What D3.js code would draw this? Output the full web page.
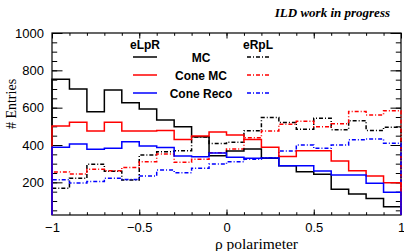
<!DOCTYPE html>
<html>
<head>
<meta charset="utf-8">
<script src="https://cdn.jsdelivr.net/npm/d3@7"></script>
<style>
  body { margin: 0; background: #fff; }
  svg { display: block; }
  .tick text { font-family: "Liberation Sans", Arial, sans-serif; }
</style>
</head>
<body>
<div id="chart"></div>
<script>
// bins of rho polarimeter, 20 bins from -1 to 1
let bin_edges = d3.range(21).map(function (i) { return -1 + i * 0.1; });

// eLpR (solid)
let mc_lr        = [752, 700, 578, 695, 626, 593, 534, 498, 444, 343, 368, 378, 329, 289, 257, 243, 163, 137, 114, 69];
let cone_mc_lr   = [502, 522, 475, 522, 475, 475, 478, 430, 448, 470, 453, 430, 388, 339, 369, 369, 314, 262, 234, 198];
let cone_reco_lr = [388, 405, 377, 382, 418, 395, 387, 341, 337, 357, 334, 329, 330, 289, 289, 261, 239, 239, 195, 147];

// eRpL (dash-dot)
let mc_rl        = [168, 222, 297, 259, 212, 346, 364, 369, 443, 408, 415, 477, 547, 521, 484, 543, 482, 530, 478, 495];
let cone_mc_rl   = [256, 245, 270, 262, 280, 310, 352, 307, 323, 359, 378, 439, 475, 511, 527, 498, 514, 580, 561, 584];
let cone_reco_rl = [214, 197, 204, 222, 215, 234, 266, 252, 275, 298, 310, 323, 332, 368, 400, 382, 400, 428, 432, 409];

let legend_labels = ["MC", "Cone MC", "Cone Reco"];
let legend_colors = ["#000000", "#ff0000", "#0000ff"];
let x_ticks_major = [-1, -0.5, 0, 0.5, 1];
let y_ticks_major = [200, 400, 600, 800, 1000];

let W = 404, H = 251;
let p_left = 52, p_right = 401, p_top = 33, p_bottom = 215;
let y_min = 25, y_max = 1000;

let x = d3.scaleLinear().domain([-1, 1]).range([p_left, p_right]);
let y = d3.scaleLinear().domain([y_min, y_max]).range([p_bottom, p_top]);

let svg = d3.select("#chart").append("svg")
    .attr("width", W)
    .attr("height", H);

let fmt_x = function (d) { return d3.format("")(d).replace("-", "\u2212"); };

let x_minor = d3.range(21).map(function (i) { return -1 + i * 0.1; });
let y_minor = d3.range(1, 21).map(function (i) { return i * 50; });

function add_axis(axis, tx, ty, cls) {
    let g = svg.append("g")
        .attr("class", cls)
        .attr("transform", "translate(" + tx + "," + ty + ")")
        .call(axis);
    g.select(".domain").remove();
    g.selectAll("line").attr("stroke", "#000").attr("stroke-width", 1);
    return g;
}

// bottom
add_axis(d3.axisBottom(x).tickValues(x_minor).tickSize(-2.8).tickFormat(""), 0, p_bottom, "xminor");
let gx = add_axis(d3.axisBottom(x).tickValues(x_ticks_major).tickSize(-5.5).tickPadding(8).tickFormat(fmt_x), 0, p_bottom, "xmajor");
gx.selectAll("text").attr("font-size", 13).attr("fill", "#000");
// top
add_axis(d3.axisTop(x).tickValues(x_minor).tickSize(-2.8).tickFormat(""), 0, p_top, "xminor_t");
add_axis(d3.axisTop(x).tickValues(x_ticks_major).tickSize(-5.5).tickFormat(""), 0, p_top, "xmajor_t");
// left
add_axis(d3.axisLeft(y).tickValues(y_minor).tickSize(-5.2).tickFormat(""), p_left, 0, "yminor");
let gy = add_axis(d3.axisLeft(y).tickValues(y_ticks_major).tickSize(-10.5).tickPadding(8).tickFormat(d3.format("d")), p_left, 0, "ymajor");
gy.selectAll("text").attr("font-size", 13).attr("fill", "#000").attr("x", -8);
// right
add_axis(d3.axisRight(y).tickValues(y_minor).tickSize(-5.2).tickFormat(""), p_right, 0, "yminor_r");
add_axis(d3.axisRight(y).tickValues(y_ticks_major).tickSize(-10.5).tickFormat(""), p_right, 0, "ymajor_r");

// frame
svg.append("rect")
    .attr("x", p_left).attr("y", p_top)
    .attr("width", p_right - p_left).attr("height", p_bottom - p_top)
    .attr("fill", "none").attr("stroke", "#000").attr("stroke-width", 1.2);

// histograms
let line = d3.line()
    .curve(d3.curveStepAfter)
    .x(function (d) { return x(d[0]); })
    .y(function (d) { return y(d[1]); });

function hist_points(values) {
    let pts = [[-1, y_min]];
    values.forEach(function (v, i) { pts.push([bin_edges[i], v]); });
    pts.push([1, values[values.length - 1]]);
    pts.push([1, y_min]);
    return pts;
}

let series = [
    {values: mc_rl, color: legend_colors[0], dash: "4,2,1,2"},
    {values: cone_mc_rl, color: legend_colors[1], dash: "4,2,1,2"},
    {values: cone_reco_rl, color: legend_colors[2], dash: "4,2,1,2"},
    {values: mc_lr, color: legend_colors[0], dash: null},
    {values: cone_mc_lr, color: legend_colors[1], dash: null},
    {values: cone_reco_lr, color: legend_colors[2], dash: null}
];

svg.append("g").selectAll("path")
    .data(series)
    .enter().append("path")
    .attr("d", function (d) { return line(hist_points(d.values)); })
    .attr("fill", "none")
    .attr("stroke", function (d) { return d.color; })
    .attr("stroke-width", 1.5)
    .attr("stroke-dasharray", function (d) { return d.dash; });

// legend
let leg = svg.append("g")
    .attr("font-family", "'Liberation Sans', Arial, sans-serif")
    .attr("font-weight", "bold")
    .attr("font-size", 12);

leg.append("text").attr("x", 145).attr("y", 48.5).attr("text-anchor", "middle").text("eLpR");
leg.append("text").attr("x", 258).attr("y", 48.5).attr("text-anchor", "middle").text("eRpL");

let leg_y = [57, 75, 93];
legend_labels.forEach(function (lab, i) {
    leg.append("line")
        .attr("x1", 133).attr("x2", 157)
        .attr("y1", leg_y[i]).attr("y2", leg_y[i])
        .attr("stroke", legend_colors[i]).attr("stroke-width", 1.5);
    leg.append("line")
        .attr("x1", 247).attr("x2", 269)
        .attr("y1", leg_y[i]).attr("y2", leg_y[i])
        .attr("stroke", legend_colors[i]).attr("stroke-width", 1.5)
        .attr("stroke-dasharray", "4,2,1,2");
    leg.append("text")
        .attr("x", 201).attr("y", leg_y[i] + 4.5)
        .attr("text-anchor", "middle")
        .text(lab);
});

// titles
svg.append("text")
    .attr("x", 390).attr("y", 17)
    .attr("text-anchor", "end")
    .attr("font-family", "'Liberation Serif', 'Times New Roman', serif")
    .attr("font-weight", "bold").attr("font-style", "italic")
    .attr("font-size", 13)
    .text("ILD work in progress");

svg.append("text")
    .attr("x", 298).attr("y", 249)
    .attr("text-anchor", "end")
    .attr("font-family", "'Liberation Serif', 'Times New Roman', serif")
    .attr("font-size", 15.5)
    .text("\u03c1 polarimeter");

svg.append("text")
    .attr("transform", "translate(16,104) rotate(-90)")
    .attr("text-anchor", "middle")
    .attr("font-family", "'Liberation Serif', 'Times New Roman', serif")
    .attr("font-size", 14)
    .text("# Entries");
</script>
</body>
</html>
